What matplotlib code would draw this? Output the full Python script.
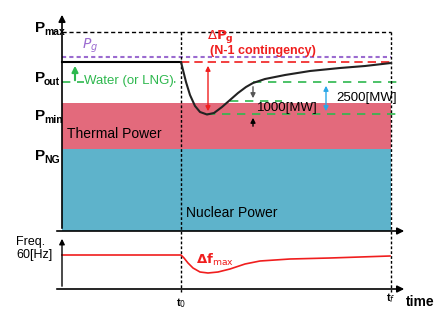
import numpy as np
import matplotlib.pyplot as plt
from matplotlib.patches import Rectangle

# schematic drawn in pixel-like coordinates (x right, y down)
t0_x = 181
tf_x = 391
left_x = 62

levels = {'Pmax': 32, 'Pg': 57, 'Pout': 62, 'water': 82, 'Pmin': 114, 'thermal_top': 103, 'PNG': 149, 'base': 231}

# black power response after the contingency
power_x = [181, 183, 186, 190, 195, 200, 207, 214, 222, 230, 238, 246, 253, 265, 285, 310, 340, 365, 391]
power_y = [62, 70, 82, 95, 106, 112, 114.5, 113, 107, 100, 93, 87, 83, 79, 75, 71, 68, 66, 63]

# system frequency
freq_x = [62, 181, 184, 188, 193, 200, 208, 218, 230, 245, 260, 290, 330, 360, 390]
freq_y = [255, 255, 258, 263, 268, 272, 273, 272, 269, 264, 261, 259, 258, 257, 256]

PINK = '#E36A7C'
BLUE = '#5EB3CB'
GREEN = '#2EB84E'
PURPLE = '#9B6BD0'
RED = '#F01E1E'
SKY = '#2BA8E8'

fig = plt.figure(figsize=(4.36, 3.09), dpi=100)
ax = fig.add_axes([0, 0, 1, 1])
ax.set_xlim(0, 436)
ax.set_ylim(309, 0)
ax.axis('off')

# stacked generation blocks
ax.add_patch(Rectangle((left_x, levels['thermal_top']), tf_x - left_x, levels['PNG'] - levels['thermal_top'],
                       color=PINK, lw=0))
ax.add_patch(Rectangle((left_x, levels['PNG']), tf_x - left_x, levels['base'] - levels['PNG'],
                       color=BLUE, lw=0))

# axes arrows
arr = dict(arrowstyle='-|>', color='black', lw=1.2, mutation_scale=10)
ax.annotate('', xy=(left_x, 12), xytext=(left_x, levels['base']), arrowprops=arr)
ax.annotate('', xy=(407, levels['base']), xytext=(left_x - 8, levels['base']), arrowprops=arr)
ax.annotate('', xy=(left_x, 236), xytext=(left_x, 289), arrowprops=dict(arrowstyle='-|>', color='black', lw=1.0, mutation_scale=8))
ax.annotate('', xy=(407, 289), xytext=(left_x - 8, 289), arrowprops=arr)

# horizontal reference lines
ax.plot([left_x, tf_x], [levels['Pmax']] * 2, color='black', ls=(0, (3, 2)), lw=1)
ax.plot([left_x, tf_x], [levels['Pg']] * 2, color=PURPLE, ls=(0, (2, 1.5)), lw=1.5)
ax.plot([left_x, t0_x], [levels['Pout']] * 2, color='black', lw=1.5)
ax.plot([t0_x, tf_x], [levels['Pout']] * 2, color=RED, ls=(0, (5, 3)), lw=1.2)
ax.plot([left_x, t0_x], [levels['water']] * 2, color=GREEN, ls=(0, (5, 4)), lw=1.2)
ax.plot([207, 400], [levels['Pmin']] * 2, color=GREEN, ls=(0, (5, 4)), lw=1.2)
ax.plot([253, 398], [82, 82], color=GREEN, ls=(0, (5, 4)), lw=1.2)
ax.plot([230, 282], [101, 101], color=GREEN, ls=(0, (5, 4)), lw=1.2)

# vertical time markers
ax.plot([t0_x, t0_x], [levels['Pmax'], 292], color='black', ls=(0, (2, 1.5)), lw=1)
ax.plot([tf_x, tf_x], [levels['Pmax'], 292], color='black', ls=(0, (2, 1.5)), lw=1)

# curves
ax.plot(power_x, power_y, color='#222222', lw=1.5)
ax.plot(freq_x, freq_y, color=RED, lw=1.2)

# arrows
ax.annotate('', xy=(75, 63), xytext=(75, 83), arrowprops=dict(arrowstyle='-|>', color=GREEN, lw=1.5, mutation_scale=9))
ax.annotate('', xy=(208, 63), xytext=(208, 114), arrowprops=dict(arrowstyle='<|-|>', color=RED, lw=1, mutation_scale=7))
ax.annotate('', xy=(253, 101), xytext=(253, 84), arrowprops=dict(arrowstyle='-|>', color='#555555', lw=1, mutation_scale=7))
ax.annotate('', xy=(253, 115), xytext=(253, 129), arrowprops=dict(arrowstyle='-|>', color='black', lw=1, mutation_scale=7))
ax.annotate('', xy=(326, 83), xytext=(326, 114), arrowprops=dict(arrowstyle='<|-|>', color=SKY, lw=1, mutation_scale=7))

# left labels
fb = dict(fontfamily='Liberation Sans', fontweight='bold')
for name, sub, y in [('P', 'max', 28), ('P', 'out', 78), ('P', 'min', 116), ('P', 'NG', 156)]:
    ax.text(35, y, name, fontsize=11, va='center', ha='left', **fb)
    ax.text(44, y + 4, sub, fontsize=7.5, va='center', ha='left', **fb)

ax.text(82, 46, '$P_g$', fontsize=10, color=PURPLE, va='center', ha='left')
ax.text(84, 81, 'Water (or LNG)', fontsize=9.5, color=GREEN, va='center', ha='left', fontfamily='Liberation Sans',
        bbox=dict(facecolor='white', edgecolor='none', pad=0))
ax.text(67, 134, 'Thermal Power', fontsize=10, va='center', ha='left', fontfamily='Liberation Sans')
ax.text(186, 213, 'Nuclear Power', fontsize=10, va='center', ha='left', fontfamily='Liberation Sans')

ax.text(207, 37, r'$\Delta\mathbf{P_g}$', fontsize=9.5, color=RED, va='center', ha='left')
ax.text(210, 51, '(N-1 contingency)', fontsize=9, color=RED, va='center', ha='left', **fb)
ax.text(257, 108, '1000[MW]', fontsize=9.5, va='center', ha='left', fontfamily='Liberation Sans')
ax.text(336, 98, '2500[MW]', fontsize=9.5, va='center', ha='left', fontfamily='Liberation Sans')

ax.text(16, 242, 'Freq.', fontsize=9, va='center', ha='left', fontfamily='Liberation Sans')
ax.text(16, 255, '60[Hz]', fontsize=9, va='center', ha='left', fontfamily='Liberation Sans')
ax.text(196, 260, r'$\mathbf{\Delta f}_{\mathrm{max}}$', fontsize=9.5, color=RED, va='center', ha='left')

ax.text(t0_x, 303, 't$_0$', fontsize=8, va='center', ha='center', **fb)
ax.text(tf_x, 298, 't$_f$', fontsize=8, va='center', ha='center', **fb)
ax.text(406, 302, 'time', fontsize=10, va='center', ha='left', **fb)

fig.savefig('out.png', dpi=100)
